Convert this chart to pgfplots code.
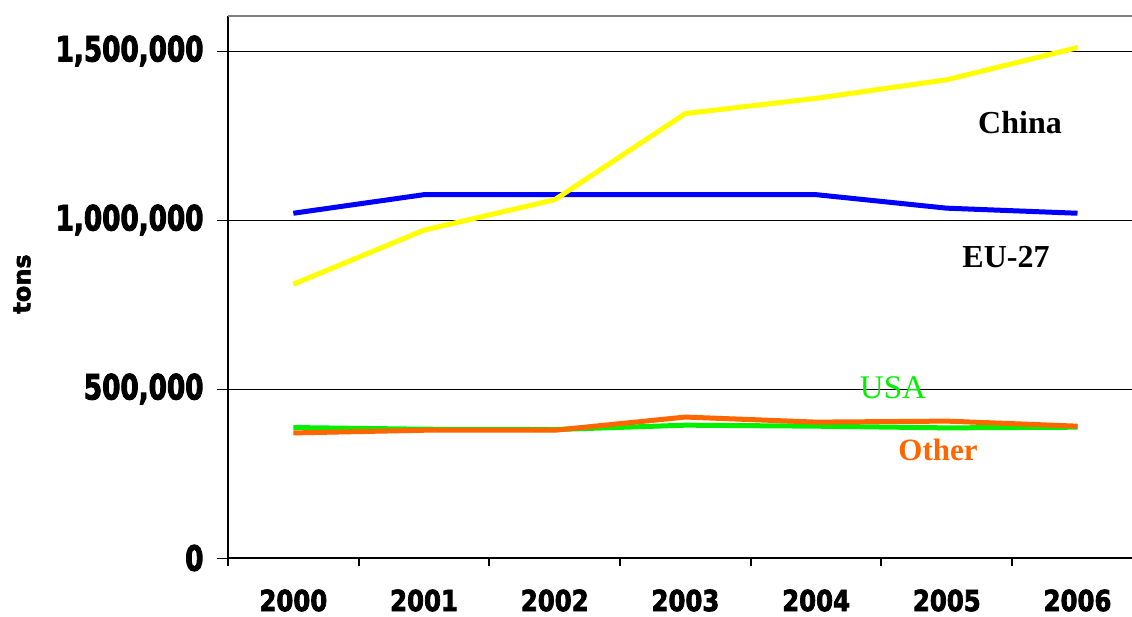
\documentclass[border=0pt]{standalone}
\usepackage{fontspec}
\setmainfont{Liberation Serif}
\newfontfamily\ytickfont{DejaVu Sans Bold}[FakeStretch=0.75, FakeBold=2.5]
\newfontfamily\xtickfont{DejaVu Sans Bold}[FakeStretch=0.84, FakeBold=2.5]
\newfontfamily\labfont{DejaVu Sans Bold}[FakeBold=2.5]
\usepackage{pgfplots}
\pgfplotsset{compat=1.18}
\definecolor{cchina}{RGB}{255,255,0}
\definecolor{ceu}{RGB}{0,0,255}
\definecolor{cusa}{RGB}{0,240,0}
\definecolor{cother}{RGB}{255,102,0}
\definecolor{cframe}{RGB}{128,128,128}
\pgfplotstableread{
x china eu usa other
0 810000 1020000 386000 370000
1 970000 1075000 381000 378000
2 1060000 1075000 380000 378000
3 1315000 1075000 393000 417000
4 1360000 1075000 390000 402000
5 1415000 1035000 385000 405000
6 1510000 1020000 387000 390000
}\datatable
\begin{document}
\begin{tikzpicture}
\begin{axis}[name=ax, scale only axis, width=904pt, height=542pt,
  xmin=-0.5, xmax=6.417, ymin=0, ymax=1603600,
  axis lines=left, axis line style={-, black, line width=2pt},
  tick align=outside,
  major tick length=11pt, minor tick length=8pt,
  xtick={0,1,2,3,4,5,6},
  xticklabels={2000,2001,2002,2003,2004,2005,2006},
  major x tick style={draw=none},
  minor xtick={-0.5,0.5,1.5,2.5,3.5,4.5,5.5},
  minor x tick style={black, line width=2pt},
  xticklabel style={font=\xtickfont\fontsize{29}{29}\selectfont, yshift=-17pt},
  ytick={0,500000,1000000,1500000},
  major y tick style={black, line width=0.8pt},
  ymajorgrids, grid style={black, line width=0.8pt},
  scaled y ticks=false,
  yticklabel style={font=\ytickfont\fontsize{35}{35}\selectfont, xshift=-10pt,
    /pgf/number format/.cd, fixed, precision=0, 1000 sep={,}, assume math mode=true},
  clip=false,
]
\addplot[ceu, line width=5pt, line join=round] table[x=x, y=eu] {\datatable};
\addplot[cchina, line width=5pt, line join=round] table[x=x, y=china] {\datatable};
\addplot[cusa, line width=5pt, line join=round] table[x=x, y=usa] {\datatable};
\addplot[cother, line width=5pt, line join=round] table[x=x, y=other] {\datatable};
\node[font=\fontsize{32}{32}\selectfont\bfseries] at (axis cs:5.56,1287000) {China};
\node[font=\fontsize{32}{32}\selectfont\bfseries] at (axis cs:5.453,890600) {EU-27};
\node[font=\fontsize{33}{33}\selectfont, text=cusa] at (axis cs:4.588,503000) {USA};
\node[font=\fontsize{31}{31}\selectfont\bfseries, text=cother] at (axis cs:4.933,319500) {Other};
\end{axis}
\draw[cframe, line width=2pt] (ax.north west) -- (ax.north east);
\path (ax.south west) ++(-206pt,274pt) node[rotate=90, font=\labfont\fontsize{24}{24}\selectfont] {tons};
\pgfresetboundingbox
\path (ax.south west) ++(-228pt,-58pt) rectangle ++(1132pt,616pt);
\end{tikzpicture}
\end{document}
